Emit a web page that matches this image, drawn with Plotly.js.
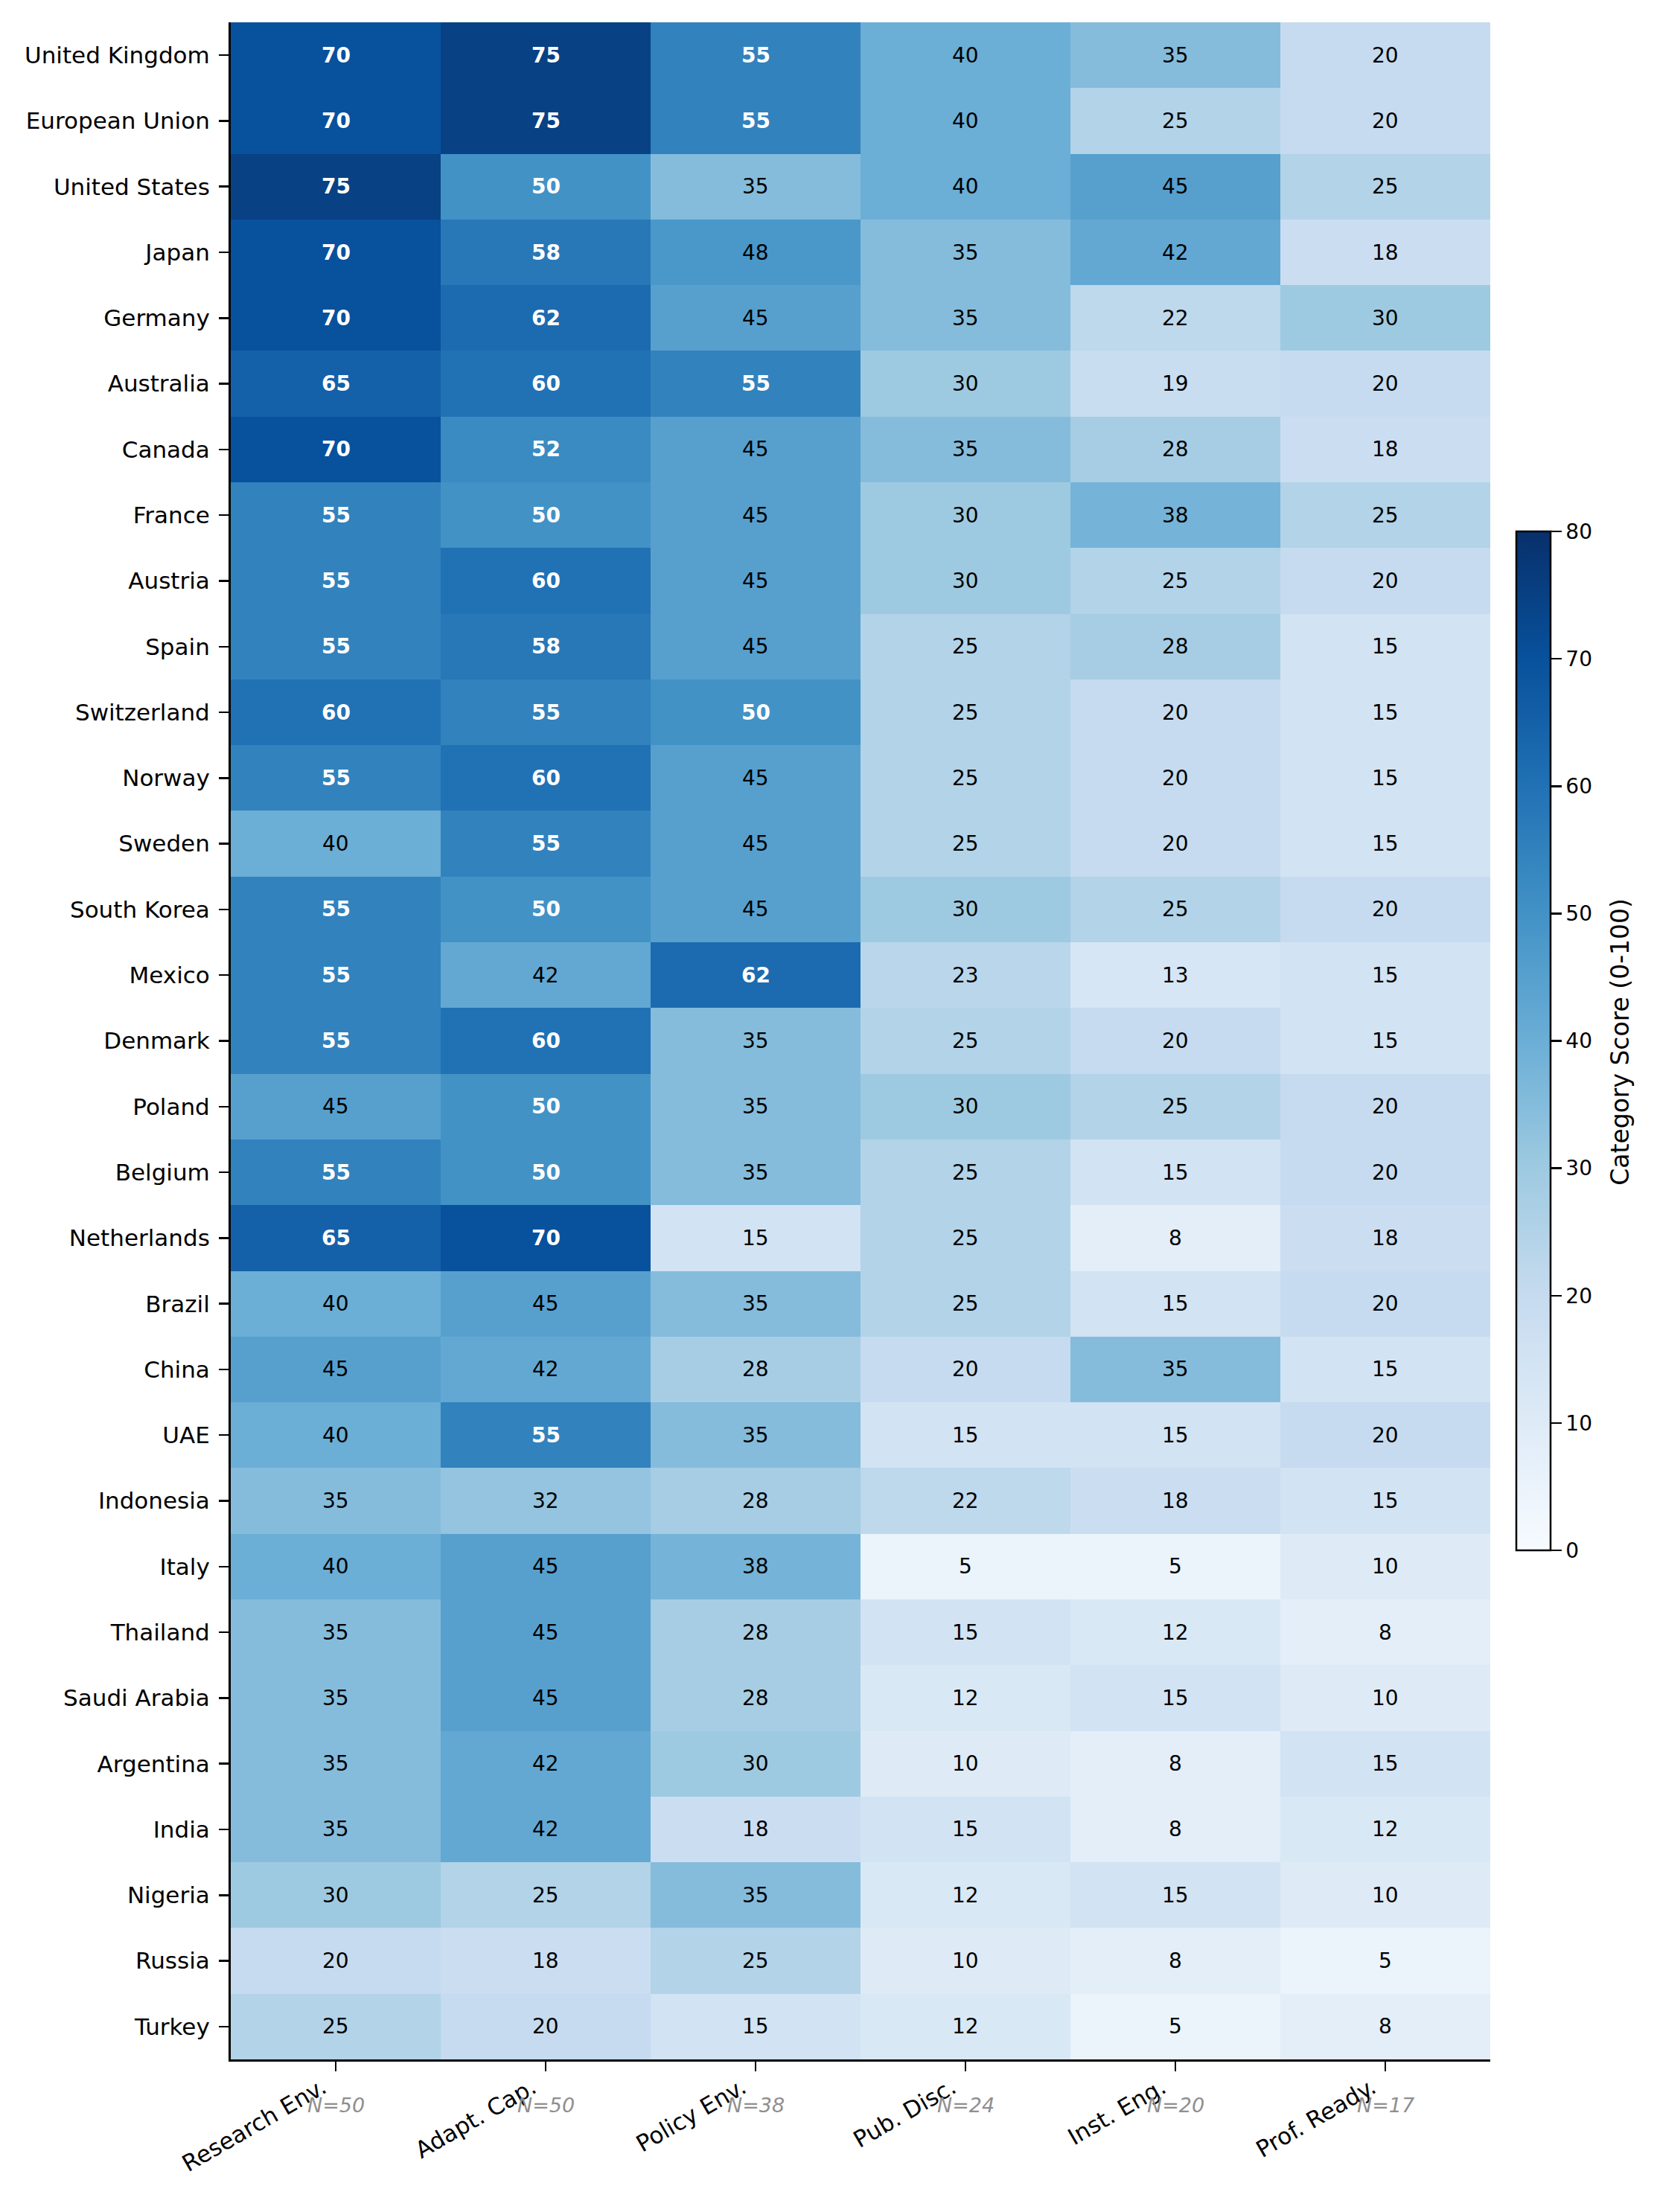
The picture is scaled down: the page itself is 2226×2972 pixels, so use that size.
<!DOCTYPE html>
<html>
<head>
<meta charset="utf-8">
<script src="https://cdn.plot.ly/plotly-3.0.1.min.js"></script>
<style>html,body{margin:0;padding:0;background:#fff;}</style>
</head>
<body>
<div id="chart" style="width:2226px;height:2972px;"></div>
<script>
const categories = ["Research Env.", "Adapt. Cap.", "Policy Env.", "Pub. Disc.", "Inst. Eng.", "Prof. Ready."];
const nCounts = [50, 50, 38, 24, 20, 17];
const countries = ["United Kingdom","European Union","United States","Japan","Germany","Australia","Canada","France","Austria","Spain","Switzerland","Norway","Sweden","South Korea","Mexico","Denmark","Poland","Belgium","Netherlands","Brazil","China","UAE","Indonesia","Italy","Thailand","Saudi Arabia","Argentina","India","Nigeria","Russia","Turkey"];
const researchEnv = [70,70,75,70,70,65,70,55,55,55,60,55,40,55,55,55,45,55,65,40,45,40,35,40,35,35,35,35,30,20,25];
const adaptCap    = [75,75,50,58,62,60,52,50,60,58,55,60,55,50,42,60,50,50,70,45,42,55,32,45,45,45,42,42,25,18,20];
const policyEnv   = [55,55,35,48,45,55,45,45,45,45,50,45,45,45,62,35,35,35,15,35,28,35,28,38,28,28,30,18,35,25,15];
const pubDisc     = [40,40,40,35,35,30,35,30,30,25,25,25,25,30,23,25,30,25,25,25,20,15,22,5,15,12,10,15,12,10,12];
const instEng     = [35,25,45,42,22,19,28,38,25,28,20,20,20,25,13,20,25,15,8,15,35,15,18,5,12,15,8,8,15,8,5];
const profReady   = [20,20,25,18,30,20,18,25,20,15,15,15,15,20,15,15,20,20,18,20,15,20,15,10,8,10,15,12,10,5,8];

const series = [researchEnv, adaptCap, policyEnv, pubDisc, instEng, profReady];
const z = countries.map((c, i) => series.map(s => s[i]));

const blues = [
  [0.0, "#f7fbff"], [0.125, "#deebf7"], [0.25, "#c6dbef"], [0.375, "#9ecae1"],
  [0.5, "#6baed6"], [0.625, "#4292c6"], [0.75, "#2171b5"], [0.875, "#08519c"], [1.0, "#08306b"]
];

const FONT = "DejaVu Sans, Liberation Sans, sans-serif";

const trace = {
  type: "heatmap",
  x: categories,
  y: countries,
  z: z,
  zmin: 0,
  zmax: 80,
  colorscale: blues,
  hoverinfo: "skip",
  colorbar: {
    x: 1.0204,
    xref: "paper",
    xanchor: "left",
    y: 0.5,
    yanchor: "middle",
    len: 0.5,
    lenmode: "fraction",
    thickness: 46,
    thicknessmode: "pixels",
    outlinewidth: 2.5,
    outlinecolor: "#000",
    tickmode: "array",
    tickvals: [0,10,20,30,40,50,60,70,80],
    ticks: "outside",
    ticklen: 14,
    tickwidth: 2.5,
    tickcolor: "#000",
    tickfont: {family: FONT, size: 28, color: "#000"},
    xpad: 0,
    ypad: 0,
    title: {text: ""}
  }
};

const annotations = [];
countries.forEach((c, i) => {
  series.forEach((s, j) => {
    const v = s[i];
    const dark = v >= 50;
    annotations.push({
      x: categories[j], y: c, xref: "x", yref: "y",
      text: String(v), showarrow: false,
      font: {family: FONT, size: 28, color: dark ? "#ffffff" : "#000000", weight: dark ? "bold" : "normal"}
    });
  });
});
categories.forEach((cat, j) => {
  annotations.push({
    x: cat, y: -0.0223, xref: "x", yref: "paper",
    text: "N=" + nCounts[j], showarrow: false, yanchor: "middle",
    font: {family: FONT, size: 27, color: "#8f8f8f", style: "italic"}
  });
});
annotations.push({
  x: 1.1034, y: 0.4995, xref: "paper", yref: "paper",
  xanchor: "center", yanchor: "middle", textangle: -90,
  text: "Category Score (0-100)", showarrow: false,
  font: {family: FONT, size: 33, color: "#000"}
});

const layout = {
  width: 2226,
  height: 2972,
  margin: {l: 310, r: 224, t: 30, b: 205},
  paper_bgcolor: "#ffffff",
  plot_bgcolor: "#ffffff",
  font: {family: FONT, color: "#000"},
  xaxis: {
    type: "category",
    tickangle: -30,
    ticks: "outside",
    ticklen: 13,
    tickwidth: 2.5,
    tickcolor: "#000",
    showline: true,
    linewidth: 3,
    linecolor: "#000",
    showgrid: false,
    zeroline: false,
    ticklabelshift: -18,
    ticklabelstandoff: -8,
    tickfont: {family: FONT, size: 31, color: "#000"},
    range: [-0.5, 5.5]
  },
  yaxis: {
    type: "category",
    autorange: "reversed",
    ticks: "outside",
    ticklen: 13,
    tickwidth: 2.5,
    tickcolor: "#000",
    showline: true,
    linewidth: 3,
    linecolor: "#000",
    showgrid: false,
    zeroline: false,
    ticklabelstandoff: 6,
    tickfont: {family: FONT, size: 31, color: "#000"}
  },
  annotations: annotations,
  showlegend: false
};

Plotly.newPlot("chart", [trace], layout, {displayModeBar: false, staticPlot: true});
</script>
</body>
</html>
